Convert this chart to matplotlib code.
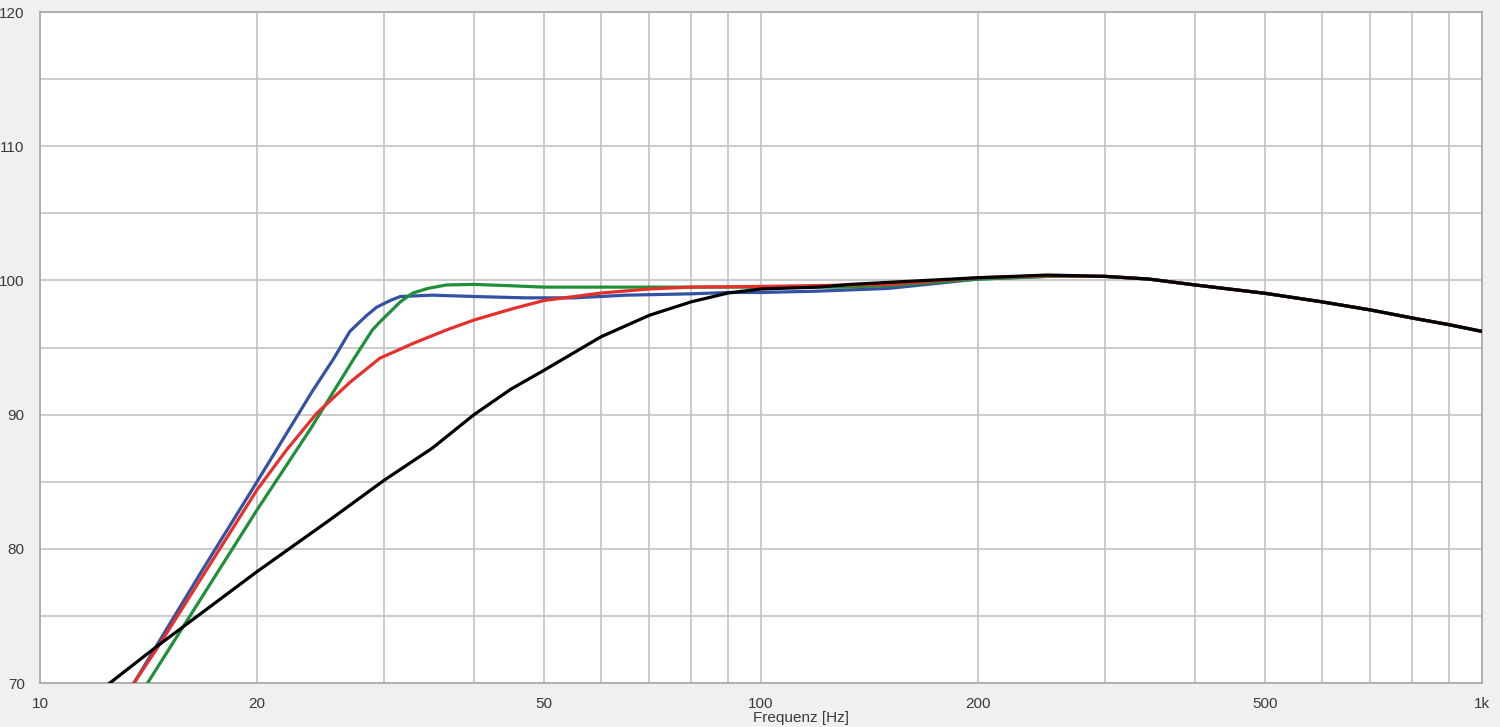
import matplotlib
matplotlib.use("Agg")
import matplotlib.pyplot as plt

# Frequenzgang-Kurven (Frequenz in Hz, Pegel in dB)
blue_f = [13.5, 16.7, 20, 23.9, 25.5, 26.9, 28.4, 29.3, 30.6, 31.6, 35, 40, 47, 55,
          65, 80, 90, 100, 120, 150, 200, 250, 300, 345, 400, 500, 600, 700, 800, 900, 1000]
blue_v = [70, 78.2, 85.0, 91.8, 94.1, 96.2, 97.4, 98.0, 98.5, 98.8, 98.9, 98.8, 98.7, 98.7,
          98.9, 99.0, 99.1, 99.1, 99.2, 99.4, 100.1, 100.3, 100.3, 100.1, 99.66, 99.04, 98.4, 97.8, 97.2, 96.7, 96.2]

green_f = [14.1, 15.8, 20, 23.7, 27.2, 28.9, 29.6, 31.6, 32.9, 34.5, 36.6, 40, 45, 50,
           70, 100, 130, 150, 200, 250, 300, 345, 400, 500, 600, 700, 800, 900, 1000]
green_v = [70, 74.2, 82.9, 88.9, 94.1, 96.3, 96.9, 98.4, 99.06, 99.4, 99.66, 99.7, 99.6, 99.5,
           99.5, 99.5, 99.5, 99.6, 100.1, 100.3, 100.3, 100.1, 99.66, 99.04, 98.4, 97.8, 97.2, 96.7, 96.2]

red_f = [13.5, 14.5, 20, 22, 24.2, 26.9, 29.6, 32.9, 36.6, 40, 45.3, 50, 60, 70,
         80, 100, 150, 200, 250, 300, 345, 400, 500, 600, 700, 800, 900, 1000]
red_v = [70, 72.5, 84.4, 87.4, 90.1, 92.4, 94.2, 95.3, 96.3, 97.05, 97.9, 98.5, 99.06, 99.36,
         99.5, 99.55, 99.7, 100.2, 100.35, 100.3, 100.1, 99.66, 99.04, 98.4, 97.8, 97.2, 96.7, 96.2]

black_f = [12.5, 14.5, 20, 25, 30, 35, 40, 45, 50, 60, 70, 80, 90, 100, 120, 133,
           150, 200, 250, 300, 345, 400, 500, 600, 700, 800, 900, 1000]
black_v = [70, 72.7, 78.3, 82.0, 85.1, 87.5, 90.0, 91.9, 93.3, 95.8, 97.4, 98.4, 99.06, 99.36, 99.5, 99.7,
           99.85, 100.2, 100.4, 100.3, 100.1, 99.66, 99.04, 98.4, 97.8, 97.2, 96.7, 96.2]

# Achsen
x_grid = [10, 20, 30, 40, 50, 60, 70, 80, 90, 100, 200, 300, 400, 500, 600, 700, 800, 900, 1000]
x_labels = {10: "10", 20: "20", 50: "50", 100: "100", 200: "200", 500: "500", 1000: "1k"}
y_grid = [70, 75, 80, 85, 90, 95, 100, 105, 110, 115, 120]

plt.rcParams['font.family'] = ['Liberation Sans', 'DejaVu Sans']

fig = plt.figure(figsize=(15, 7.27), dpi=100, facecolor="#f0f0f0")
ax = fig.add_axes([40 / 1500, 1 - 683 / 727, 1442 / 1500, 671 / 727])
ax.set_facecolor("white")

ax.plot(blue_f, blue_v, color="#3451a3", lw=2.3, zorder=3)
ax.plot(green_f, green_v, color="#1f8f3a", lw=2.3, zorder=4)
ax.plot(red_f, red_v, color="#e5302b", lw=2.3, zorder=5)
ax.plot(black_f, black_v, color="black", lw=2.3, zorder=6)

ax.set_xscale("log")
ax.set_xlim(10, 1000)
ax.set_ylim(70, 120)
ax.minorticks_off()
ax.set_xticks(x_grid)
ax.set_xticklabels([x_labels.get(f, "") for f in x_grid])
ax.set_yticks(y_grid)
ax.set_yticklabels([str(v) if v % 10 == 0 else "" for v in y_grid])
ax.tick_params(length=0, labelsize=11, colors="#3a3a3a")
ax.tick_params(axis="x", pad=10)
ax.tick_params(axis="y", pad=11)
ax.grid(True, color="#c2c2c2", lw=1.2)
for s in ax.spines.values():
    s.set_color("#a8a8a8")
    s.set_linewidth(1.2)

ax.set_xlabel("Frequenz [Hz]", fontsize=11, color="#3a3a3a")
ax.xaxis.set_label_coords((801 - 40) / 1442, -0.041)

fig.savefig("out.png", dpi=100, facecolor=fig.get_facecolor())
